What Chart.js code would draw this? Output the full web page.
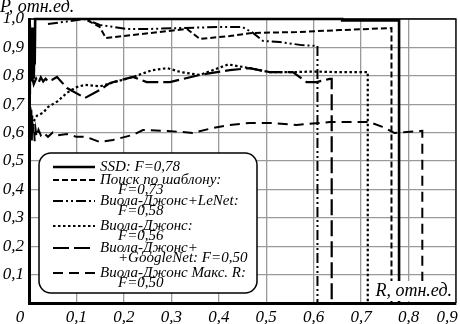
<!DOCTYPE html>
<html><head><meta charset="utf-8">
<script src="https://cdn.jsdelivr.net/npm/chart.js@4/dist/chart.umd.min.js"></script>
<style>html,body{margin:0;padding:0;background:#fff;overflow:hidden}</style>
</head><body>
<canvas id="c" width="460" height="324"></canvas>
<script>
// ---- data (R = recall, P = precision) ----
const xTickLabels = ['0', '0,1', '0,2', '0,3', '0,4', '0,5', '0,6', '0,7', '0,8', '0,9'];
const yTickLabels = ['', '0,1', '0,2', '0,3', '0,4', '0,5', '0,6', '0,7', '0,8', '0,9', '1,0'];

const ssdR = [0.001, 0.0015, 0.002, 0.003, 0.004, 0.005, 0.006, 0.007, 0.008, 0.009, 0.010, 0.011, 0.012, 0.013, 0.014, 0.66, 0.66, 0.78, 0.78];
const ssdP = [0.74, 0.98, 0.76, 0.95, 0.78, 0.92, 0.8, 0.97, 0.82, 0.9, 0.79, 0.88, 0.84, 1.0, 1.0, 1.0, 0.995, 0.995, 0];

const tplR = [0.01, 0.118, 0.149, 0.162, 0.219, 0.333, 0.36, 0.423, 0.472, 0.564, 0.655, 0.764, 0.764];
const tplP = [1.0, 1.0, 0.972, 0.933, 0.944, 0.965, 0.93, 0.94, 0.951, 0.954, 0.961, 0.968, 0];

const lenetR = [0.04, 0.118, 0.149, 0.177, 0.206, 0.255, 0.318, 0.402, 0.45, 0.472, 0.493, 0.528, 0.575, 0.608, 0.608];
const lenetP = [0.982, 1.0, 0.979, 0.972, 0.965, 0.965, 0.968, 0.972, 0.972, 0.951, 0.923, 0.919, 0.908, 0.905, 0];

const vjR = [0.01, 0.017, 0.03, 0.04, 0.06, 0.08, 0.1, 0.118, 0.15, 0.185, 0.219, 0.26, 0.292, 0.32, 0.36, 0.42, 0.465, 0.507, 0.556, 0.6, 0.65, 0.714, 0.714];
const vjP = [0.64, 0.66, 0.67, 0.69, 0.71, 0.74, 0.76, 0.768, 0.763, 0.78, 0.796, 0.82, 0.827, 0.813, 0.803, 0.84, 0.827, 0.813, 0.813, 0.815, 0.813, 0.813, 0];

const gnR = [0.006, 0.01, 0.015, 0.02, 0.025, 0.03, 0.035, 0.04, 0.048, 0.059, 0.08, 0.118, 0.149, 0.171, 0.219, 0.248, 0.297, 0.36, 0.423, 0.465, 0.507, 0.556, 0.585, 0.606, 0.634, 0.638, 0.638];
const gnP = [0.8, 0.77, 0.79, 0.775, 0.795, 0.78, 0.79, 0.78, 0.785, 0.796, 0.757, 0.722, 0.75, 0.775, 0.796, 0.778, 0.778, 0.803, 0.82, 0.827, 0.813, 0.813, 0.778, 0.778, 0.789, 0.789, 0];

const maxR = [0.001, 0.0015, 0.002, 0.003, 0.004, 0.005, 0.006, 0.007, 0.008, 0.01, 0.012, 0.014, 0.016, 0.02, 0.025, 0.03, 0.04, 0.05, 0.06, 0.08, 0.1, 0.12, 0.149, 0.177, 0.219, 0.24, 0.292, 0.345, 0.387, 0.423, 0.465, 0.513, 0.564, 0.634, 0.718, 0.745, 0.77, 0.829, 0.829];
const maxP = [0.58, 0.72, 0.56, 0.7, 0.6, 0.68, 0.57, 0.66, 0.59, 0.63, 0.57, 0.61, 0.585, 0.61, 0.59, 0.6, 0.585, 0.6, 0.59, 0.595, 0.585, 0.585, 0.567, 0.574, 0.592, 0.609, 0.606, 0.599, 0.616, 0.627, 0.634, 0.634, 0.627, 0.637, 0.637, 0.62, 0.599, 0.606, 0];

const legendLines = [
  ['SSD: F=0,78'],
  ['Поиск по шаблону:', 'F=0,73'],
  ['Виола-Джонс+LeNet:', 'F=0,58'],
  ['Виола-Джонс:', 'F=0,56'],
  ['Виола-Джонс+', '+GoogleNet: F=0,50'],
  ['Виола-Джонс Макс. R:', 'F=0,50']
];

// ---- styles ----
const TFONT = 'italic 18px "Liberation Serif", "DejaVu Serif", serif';
const LFONT = 'italic 15px "Liberation Serif", "DejaVu Serif", serif';
const styles = [
  {w: 2.6, dash: []},
  {w: 2, dash: [6, 3]},
  {w: 2, dash: [10, 3, 2, 3, 2, 3]},
  {w: 2.2, dash: [2.5, 2.5]},
  {w: 2.2, dash: [16, 5]},
  {w: 2, dash: [10, 6]}
];
const pairs = [[ssdR, ssdP], [tplR, tplP], [lenetR, lenetP], [vjR, vjP], [gnR, gnP], [maxR, maxP]];

const datasets = pairs.map((p, i) => ({
  label: legendLines[i].join(' '),
  data: p[0].map((r, k) => ({x: r, y: p[1][k]})),
  showLine: true,
  borderColor: '#000',
  backgroundColor: '#000',
  borderWidth: styles[i].w,
  borderDash: styles[i].dash,
  pointRadius: 0,
  tension: 0,
  clip: 6
}));

const decor = {
  id: 'decor',
  afterDraw(chart) {
    const ctx = chart.ctx, a = chart.chartArea;
    ctx.save();
    // frame top/right (thin)
    ctx.strokeStyle = '#000';
    ctx.lineWidth = 1.3;
    ctx.beginPath();
    ctx.moveTo(a.left, a.top); ctx.lineTo(a.right, a.top); ctx.lineTo(a.right, a.bottom);
    ctx.stroke();
    // axis titles
    ctx.fillStyle = '#000';
    ctx.font = TFONT;
    ctx.textBaseline = 'alphabetic';
    ctx.textAlign = 'left';
    ctx.fillText('P, отн.ед.', 0, 12);
    const rt = 'R, отн.ед.';
    const tw = ctx.measureText(rt).width;
    ctx.fillStyle = '#fff';
    ctx.fillRect(a.right - 4 - tw - 2, a.bottom - 22, tw + 4, 20);
    ctx.fillStyle = '#000';
    ctx.textAlign = 'right';
    ctx.fillText(rt, a.right - 4, a.bottom - 7);
    // legend
    const bx = 39, by = 153, bw = 218, bh = 140;
    ctx.beginPath();
    ctx.roundRect(bx, by, bw, bh, 12);
    ctx.fillStyle = '#fff';
    ctx.fill();
    ctx.lineWidth = 1.5;
    ctx.strokeStyle = '#000';
    ctx.setLineDash([]);
    ctx.stroke();
    const rows = [14, 27, 48, 73, 95, 120];
    ctx.font = LFONT;
    ctx.textBaseline = 'middle';
    ctx.textAlign = 'left';
    legendLines.forEach((lines, i) => {
      const y = by + rows[i];
      ctx.beginPath();
      ctx.setLineDash(styles[i].dash);
      ctx.lineWidth = styles[i].w;
      ctx.moveTo(53, y); ctx.lineTo(95, y);
      ctx.stroke();
      ctx.setLineDash([]);
      ctx.fillStyle = '#000';
      ctx.fillText(lines[0], 100, y);
      if (lines[1]) ctx.fillText(lines[1], 118, y + 10);
    });
    ctx.restore();
  }
};

const lastIdx = xTickLabels.length - 1;
new Chart(document.getElementById('c'), {
  type: 'scatter',
  data: {datasets},
  options: {
    responsive: false,
    animation: false,
    layout: {padding: {top: 19, right: 4, left: 0, bottom: 0}},
    plugins: {legend: {display: false}, tooltip: {enabled: false}},
    scales: {
      x: {
        type: 'linear', min: 0, max: 0.9,
        afterBuildTicks: s => { s.ticks = xTickLabels.map((_, i) => ({value: i / 10})); },
        afterFit: s => { s.height = 21; s.paddingLeft = 0; s.paddingRight = 0; },
        afterCalculateLabelRotation: s => { s.labelRotation = 0; },
        ticks: {
          callback: (v, i) => xTickLabels[i],
          font: {family: '"Liberation Serif", serif', style: 'italic', size: 17},
          color: '#000', padding: 4, maxRotation: 0, autoSkip: false
        },
        grid: {color: '#9a9a9a', lineWidth: 1.3, drawTicks: false},
        border: {display: true, color: '#000', width: 3}
      },
      y: {
        type: 'linear', min: 0, max: 1.0,
        afterBuildTicks: s => { s.ticks = yTickLabels.map((_, i) => ({value: i / 10})); },
        afterFit: s => { s.width = 29; s.paddingTop = 0; s.paddingBottom = 0; },
        ticks: {
          callback: (v, i) => yTickLabels[i],
          font: {family: '"Liberation Serif", serif', style: 'italic', size: 17},
          color: '#000', padding: 5, autoSkip: false
        },
        grid: {color: '#9a9a9a', lineWidth: 1.3, drawTicks: false},
        border: {display: true, color: '#000', width: 3}
      }
    }
  },
  plugins: [decor, {
    id: 'shiftEdgeLabels',
    afterUpdate(chart) {
      // nudge first and last x labels inward, as in the reference
      const s = chart.scales.x;
      const items = s._labelItems || (s._labelItems = s._computeLabelItems(chart.chartArea));
      if (items && items.length) {
        items[0].options.translation[0] -= 9;
        items[lastIdx].options.translation[0] -= 9;
      }
    }
  }]
});
</script>
</body></html>
